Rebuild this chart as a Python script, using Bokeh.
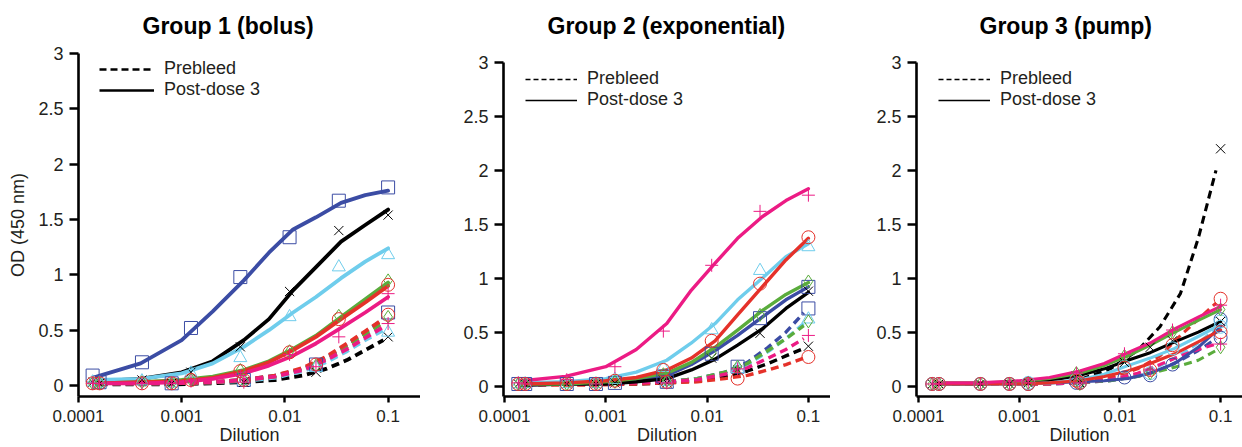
import math
from bokeh.plotting import figure
from bokeh.layouts import row
from bokeh.models import (Range1d, FixedTicker, CustomJSTickFormatter, Title,
                          Legend, LegendItem)
from bokeh.embed import file_html
from bokeh.resources import INLINE

# ---------------- data ----------------
TITLES = ["Group 1 (bolus)", "Group 2 (exponential)", "Group 3 (pump)"]
Y_LABEL = "OD (450 nm)"
X_LABEL = "Dilution"
LEGEND_LABELS = ["Prebleed", "Post-dose 3"]
X_TICKS = [0.0001, 0.001, 0.01, 0.1]
Y_TICKS = [0, 0.5, 1, 1.5, 2, 2.5, 3]
Y_AXIS_TOP = 3.0

# animal order: blue, black, cyan, green, red, magenta
ANIMAL_COLORS = ["#3b4ca4", "#000000", "#6fcdec", "#5aac3c", "#e5312a", "#ec1b84"]
MARKERS_G12 = ["square", "x", "triangle", "diamond", "circle", "cross"]
MARKERS_G3 = ["circle", "x", "circle", "diamond", "circle", "cross"]

POST_X = [0.000137, 0.000412, 0.00123, 0.0037, 0.0111, 0.0333, 0.1]
PRE_X = [0.00016, 0.0008, 0.004, 0.02, 0.1]
POST_FIT_X = [0.00015, 0.0004, 0.001, 0.002, 0.004, 0.007, 0.012, 0.02, 0.035, 0.06, 0.1]
PRE_FIT_X = [0.00016, 0.0008, 0.002, 0.004, 0.008, 0.015, 0.025, 0.04, 0.06, 0.09]

# ----- Group 1 -----
G1_POST_FIT = [
    [0.08, 0.20, 0.41, 0.67, 0.95, 1.20, 1.41, 1.52, 1.65, 1.72, 1.76],
    [0.04, 0.06, 0.12, 0.22, 0.41, 0.60, 0.86, 1.07, 1.30, 1.45, 1.59],
    [0.05, 0.06, 0.11, 0.20, 0.35, 0.50, 0.66, 0.80, 0.97, 1.12, 1.24],
    [0.02, 0.03, 0.05, 0.08, 0.14, 0.22, 0.33, 0.45, 0.62, 0.78, 0.93],
    [0.02, 0.03, 0.04, 0.07, 0.13, 0.21, 0.32, 0.44, 0.60, 0.75, 0.90],
    [0.02, 0.02, 0.03, 0.06, 0.11, 0.18, 0.27, 0.38, 0.52, 0.66, 0.80],
]
G1_POST_PTS = [
    [0.09, 0.21, 0.52, 0.98, 1.34, 1.67, 1.79],
    [0.03, 0.05, 0.12, 0.35, 0.85, 1.40, 1.54],
    [0.03, 0.04, 0.11, 0.25, 0.62, 1.07, 1.18],
    [0.02, 0.03, 0.05, 0.14, 0.31, 0.63, 0.95],
    [0.02, 0.02, 0.05, 0.13, 0.30, 0.60, 0.91],
    [0.02, 0.02, 0.04, 0.09, 0.28, 0.44, 0.83],
]
G1_PRE_FIT = [
    [0.02, 0.02, 0.03, 0.05, 0.09, 0.15, 0.25, 0.37, 0.48, 0.60],
    [0.01, 0.01, 0.02, 0.03, 0.05, 0.09, 0.15, 0.23, 0.32, 0.41],
    [0.02, 0.02, 0.03, 0.04, 0.07, 0.13, 0.21, 0.31, 0.41, 0.50],
    [0.02, 0.02, 0.03, 0.05, 0.08, 0.15, 0.24, 0.35, 0.46, 0.57],
    [0.02, 0.02, 0.03, 0.05, 0.09, 0.16, 0.26, 0.38, 0.49, 0.60],
    [0.02, 0.02, 0.03, 0.05, 0.08, 0.14, 0.23, 0.33, 0.43, 0.53],
]
G1_PRE_PTS = [
    [0.03, 0.02, 0.05, 0.19, 0.66],
    [0.02, 0.02, 0.03, 0.12, 0.44],
    [0.02, 0.02, 0.04, 0.16, 0.48],
    [0.02, 0.02, 0.05, 0.18, 0.62],
    [0.02, 0.02, 0.05, 0.19, 0.64],
    [0.02, 0.02, 0.03, 0.17, 0.56],
]

# ----- Group 2 -----
G2_POST_FIT = [
    [0.01, 0.02, 0.03, 0.05, 0.10, 0.20, 0.33, 0.47, 0.64, 0.80, 0.92],
    [0.01, 0.02, 0.02, 0.04, 0.07, 0.15, 0.25, 0.38, 0.53, 0.72, 0.87],
    [0.03, 0.04, 0.07, 0.13, 0.24, 0.40, 0.58, 0.80, 1.00, 1.20, 1.32],
    [0.02, 0.02, 0.04, 0.07, 0.12, 0.22, 0.36, 0.52, 0.70, 0.85, 0.96],
    [0.02, 0.03, 0.05, 0.08, 0.15, 0.26, 0.42, 0.66, 0.92, 1.17, 1.37],
    [0.05, 0.09, 0.18, 0.34, 0.58, 0.89, 1.14, 1.37, 1.57, 1.72, 1.83],
]
G2_POST_PTS = [
    [0.02, 0.02, 0.03, 0.09, 0.30, 0.63, 0.92],
    [0.02, 0.02, 0.03, 0.06, 0.26, 0.49, 0.88],
    [0.02, 0.02, 0.06, 0.17, 0.52, 1.07, 1.29],
    [0.02, 0.02, 0.04, 0.11, 0.31, 0.66, 0.97],
    [0.02, 0.02, 0.05, 0.15, 0.42, 0.95, 1.38],
    [0.03, 0.06, 0.18, 0.51, 1.12, 1.62, 1.77],
]
G2_PRE_FIT = [
    [0.02, 0.02, 0.03, 0.04, 0.07, 0.13, 0.22, 0.36, 0.50, 0.68],
    [0.02, 0.02, 0.02, 0.03, 0.05, 0.09, 0.14, 0.21, 0.28, 0.35],
    [0.02, 0.02, 0.03, 0.04, 0.07, 0.12, 0.20, 0.32, 0.44, 0.58],
    [0.02, 0.02, 0.03, 0.04, 0.07, 0.13, 0.21, 0.33, 0.44, 0.56],
    [0.01, 0.01, 0.02, 0.03, 0.04, 0.07, 0.10, 0.15, 0.20, 0.26],
    [0.02, 0.02, 0.03, 0.04, 0.06, 0.11, 0.17, 0.26, 0.34, 0.44],
]
G2_PRE_PTS = [
    [0.02, 0.02, 0.04, 0.18, 0.72],
    [0.02, 0.02, 0.03, 0.15, 0.37],
    [0.02, 0.02, 0.04, 0.16, 0.62],
    [0.02, 0.02, 0.05, 0.18, 0.60],
    [0.02, 0.02, 0.04, 0.07, 0.27],
    [0.02, 0.02, 0.03, 0.16, 0.47],
]

# ----- Group 3 -----
G3_POST_FIT = [
    [0.02, 0.02, 0.02, 0.03, 0.04, 0.05, 0.07, 0.12, 0.21, 0.36, 0.55],
    [0.02, 0.02, 0.03, 0.05, 0.10, 0.16, 0.24, 0.31, 0.41, 0.50, 0.60],
    [0.02, 0.02, 0.02, 0.03, 0.06, 0.11, 0.19, 0.26, 0.35, 0.46, 0.57],
    [0.03, 0.03, 0.04, 0.07, 0.12, 0.19, 0.28, 0.38, 0.50, 0.61, 0.71],
    [0.02, 0.02, 0.02, 0.03, 0.05, 0.09, 0.14, 0.21, 0.30, 0.41, 0.52],
    [0.03, 0.03, 0.05, 0.08, 0.14, 0.21, 0.31, 0.40, 0.53, 0.64, 0.74],
]
G3_POST_PTS = [
    [0.02, 0.02, 0.02, 0.03, 0.08, 0.20, 0.62],
    [0.02, 0.02, 0.03, 0.09, 0.22, 0.42, 0.60],
    [0.02, 0.02, 0.03, 0.06, 0.18, 0.35, 0.60],
    [0.02, 0.02, 0.03, 0.12, 0.28, 0.50, 0.71],
    [0.02, 0.02, 0.02, 0.05, 0.17, 0.38, 0.81],
    [0.02, 0.02, 0.03, 0.12, 0.30, 0.52, 0.75],
]
G3_PRE_FIT = [
    [0.02, 0.02, 0.02, 0.03, 0.05, 0.09, 0.15, 0.24, 0.33, 0.44],
    [0.02, 0.02, 0.03, 0.06, 0.16, 0.33, 0.55, 0.86, 1.37, 2.00],
    [0.02, 0.02, 0.02, 0.03, 0.06, 0.11, 0.19, 0.29, 0.40, 0.53],
    [0.02, 0.02, 0.02, 0.03, 0.05, 0.09, 0.14, 0.19, 0.24, 0.33],
    [0.02, 0.02, 0.02, 0.04, 0.08, 0.16, 0.28, 0.47, 0.62, 0.77],
    [0.02, 0.02, 0.02, 0.03, 0.06, 0.12, 0.20, 0.28, 0.34, 0.39],
]
G3_PRE_PTS = [
    [0.02, 0.02, 0.03, 0.10, 0.45],
    [0.02, 0.02, 0.03, 0.36, 2.20],
    [0.02, 0.02, 0.03, 0.12, 0.55],
    [0.02, 0.02, 0.02, 0.12, 0.36],
    [0.02, 0.02, 0.03, 0.15, 0.50],
    [0.02, 0.02, 0.03, 0.15, 0.39],
]

FONT = "Liberation Sans"
TEXT_COLOR = "#231f20"
NAN = [math.nan]


def make_panel(idx, post_fit, post_pts, pre_fit, pre_pts, markers, width, b_left,
               y_min, px_unit, top_gap, x_px0, px_decade, line_w, leg_w, leg_dash,
               leg_glyph_w, title_off, leg_dx, leg_top, show_ylabel):
    height = 447
    b_top = 53
    b_bottom = 50
    frame_w = width - b_left
    frame_h = height - b_top - b_bottom
    x_start = 10 ** (-4 - x_px0 / px_decade)
    x_end = 10 ** (-4 + (frame_w - x_px0) / px_decade)
    y_end = Y_AXIS_TOP + top_gap / px_unit
    y_start = y_end - frame_h / px_unit
    p = figure(width=width, height=height, x_axis_type="log",
               x_range=Range1d(x_start, x_end), y_range=Range1d(y_start, y_end),
               output_backend="svg", toolbar_location=None,
               min_border_left=b_left, min_border_right=0,
               min_border_top=b_top, min_border_bottom=b_bottom,
               frame_align=False)
    p.outline_line_color = None
    p.xgrid.visible = False
    p.ygrid.visible = False
    p.background_fill_color = "white"
    p.border_fill_color = "white"

    p.title = Title(text=TITLES[idx], align="left", offset=title_off,
                    vertical_align="top", standoff=25,
                    text_font=FONT, text_font_style="bold",
                    text_font_size="23px", text_color="black")

    for ax in (p.xaxis[0], p.yaxis[0]):
        ax.axis_line_width = 2.6
        ax.axis_line_color = "black"
        ax.major_tick_line_width = 2.4
        ax.major_tick_line_color = "black"
        ax.major_tick_in = 0
        ax.minor_tick_out = 0
        ax.minor_tick_in = 0
        ax.major_label_text_font = FONT
        ax.major_label_text_color = TEXT_COLOR
        ax.axis_label_text_font = FONT
        ax.axis_label_text_font_size = "18px"
        ax.axis_label_text_font_style = "normal"
        ax.axis_label_text_color = TEXT_COLOR

    p.xaxis.ticker = FixedTicker(ticks=X_TICKS, minor_ticks=[])
    p.xaxis.formatter = CustomJSTickFormatter(code="return tick.toString()")
    p.xaxis.major_tick_out = 6
    p.xaxis.major_label_standoff = 7
    p.xaxis.major_label_text_font_size = "17px"
    p.xaxis.axis_label = X_LABEL
    p.xaxis.axis_label_standoff = 0

    p.yaxis.ticker = FixedTicker(ticks=Y_TICKS, minor_ticks=[])
    p.yaxis.formatter = CustomJSTickFormatter(code="return tick.toString()")
    p.yaxis.bounds = (y_start, Y_AXIS_TOP)
    p.yaxis.major_tick_out = 9
    p.yaxis.major_label_standoff = 6
    p.yaxis.major_label_text_font_size = "18px"
    if show_ylabel:
        p.yaxis.axis_label = Y_LABEL
        p.yaxis.axis_label_standoff = 7

    # prebleed fits (dashed)
    for k, col in enumerate(ANIMAL_COLORS):
        p.line(PRE_FIT_X, pre_fit[k], line_color=col, line_width=line_w,
               line_dash="8 5", line_join="round")
    # post-dose fits (solid)
    for k, col in enumerate(ANIMAL_COLORS):
        p.line(POST_FIT_X, post_fit[k], line_color=col, line_width=line_w,
               line_join="round", line_cap="round")
    # data markers
    for k, col in enumerate(ANIMAL_COLORS):
        p.scatter(POST_X, post_pts[k], marker=markers[k], size=13,
                  line_color=col, fill_color=None, line_width=1)
        p.scatter(PRE_X, pre_pts[k], marker=markers[k], size=13,
                  line_color=col, fill_color=None, line_width=1)

    # legend (style keys)
    r_pre = p.line(X_TICKS[:1], NAN, line_color="black", line_width=leg_w,
                   line_dash=leg_dash)
    r_post = p.line(X_TICKS[:1], NAN, line_color="black", line_width=leg_w)
    legend = Legend(items=[LegendItem(label=LEGEND_LABELS[0], renderers=[r_pre]),
                           LegendItem(label=LEGEND_LABELS[1], renderers=[r_post])],
                    location=(leg_dx, frame_h - leg_top - 40),
                    glyph_width=leg_glyph_w, glyph_height=20, label_height=20,
                    label_standoff=10, spacing=0, padding=0, margin=0,
                    border_line_color=None, background_fill_alpha=0,
                    label_text_font=FONT, label_text_font_size="18px",
                    label_text_color=TEXT_COLOR)
    p.add_layout(legend)
    return p


p1 = make_panel(0, G1_POST_FIT, G1_POST_PTS, G1_PRE_FIT, G1_PRE_PTS, MARKERS_G12,
                width=420, b_left=78, y_min=-0.095, px_unit=111.0, top_gap=0,
                x_px0=0, px_decade=103.2, line_w=3.8, leg_w=2.6, leg_dash="7 4",
                leg_glyph_w=55, title_off=64, leg_dx=21, leg_top=8,
                show_ylabel=True)
p2 = make_panel(1, G2_POST_FIT, G2_POST_PTS, G2_PRE_FIT, G2_PRE_PTS, MARKERS_G12,
                width=410, b_left=83, y_min=-0.1, px_unit=108.2, top_gap=9,
                x_px0=1, px_decade=101.3, line_w=3.4, leg_w=1.5, leg_dash="5 3",
                leg_glyph_w=52, title_off=44, leg_dx=22, leg_top=18,
                show_ylabel=False)
p3 = make_panel(2, G3_POST_FIT, G3_POST_PTS, G3_PRE_FIT, G3_PRE_PTS, MARKERS_G3,
                width=412, b_left=86, y_min=-0.1, px_unit=108.2, top_gap=9,
                x_px0=2, px_decade=100.7, line_w=3.1, leg_w=1.5, leg_dash="5 3",
                leg_glyph_w=52, title_off=63, leg_dx=22, leg_top=18,
                show_ylabel=False)

layout = row(p1, p2, p3)
open("out.html", "w").write(file_html(layout, INLINE))
